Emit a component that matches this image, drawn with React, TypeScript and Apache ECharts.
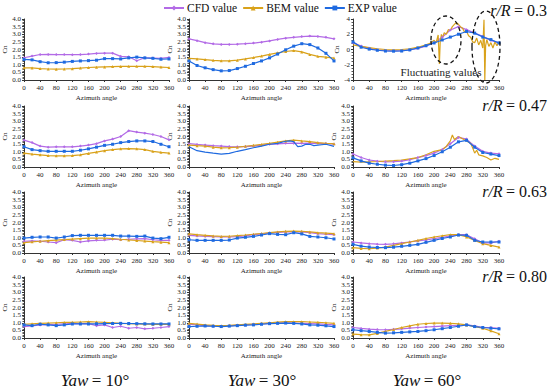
import React, { useEffect, useRef } from "react";
import * as echarts from "echarts";

// ---------- data ----------
const ANGLES = [0, 20, 40, 60, 80, 100, 120, 140, 160, 180, 200, 220, 240, 260, 280, 300, 320, 340, 360];

const SERIES_NAMES = ["CFD value", "BEM value", "EXP value"];
const YAW_LABELS = ["10", "30", "60"];
const RADIUS_LABELS = ["0.3", "0.47", "0.63", "0.80"];

// r/R = 0.3
const CFD_03_Y10 = [1.46, 1.57, 1.67, 1.68, 1.67, 1.67, 1.66, 1.67, 1.70, 1.74, 1.76, 1.76, 1.55, 1.52, 1.26, 1.46, 1.44, 1.42, 1.48];
const BEM_03_Y10 = [0.80, 0.79, 0.75, 0.72, 0.71, 0.72, 0.74, 0.78, 0.82, 0.84, 0.86, 0.88, 0.89, 0.90, 0.90, 0.90, 0.88, 0.85, 0.82];
const EXP_03_Y10 = [1.35, 1.32, 1.20, 1.13, 1.14, 1.17, 1.22, 1.25, 1.27, 1.30, 1.40, 1.40, 1.38, 1.45, 1.50, 1.45, 1.42, 1.36, 1.38];

const CFD_03_Y30 = [2.70, 2.58, 2.45, 2.37, 2.33, 2.33, 2.35, 2.38, 2.42, 2.48, 2.56, 2.66, 2.74, 2.80, 2.85, 2.88, 2.86, 2.80, 2.70];
const BEM_03_Y30 = [1.42, 1.38, 1.34, 1.29, 1.26, 1.26, 1.30, 1.38, 1.47, 1.57, 1.68, 1.78, 1.87, 1.93, 1.84, 1.68, 1.55, 1.50, 1.44];
const EXP_03_Y30 = [1.25, 0.95, 0.80, 0.68, 0.60, 0.62, 0.75, 0.90, 1.08, 1.25, 1.45, 1.70, 1.98, 2.22, 2.38, 2.32, 2.10, 1.75, 1.25];

const CFD_03_Y60 = [0.90, 0.45, 0.15, -0.05, -0.15, -0.18, -0.15, -0.05, 0.15, 0.45, 0.90, 1.60, 2.55, 3.00, 2.60, 2.15, 1.72, 1.20, 0.86];
const EXP_03_Y60 = [1.00, 0.30, 0.05, -0.10, -0.20, -0.22, -0.20, -0.05, 0.20, 0.50, 0.86, 1.25, 1.63, 2.00, 2.36, 2.15, 1.63, 1.30, 0.86];
const BEM_03_Y60_ANGLES = [0, 20, 40, 60, 80, 100, 120, 140, 160, 180, 190, 200, 205, 210, 213, 215, 218, 220, 225, 230, 235, 240, 245, 250, 255, 260, 265, 270, 275, 280, 285, 290, 295, 300, 305, 310, 315, 320, 323, 325, 327, 330, 335, 340, 345, 350, 355, 360];
const BEM_03_Y60 = [0.60, 0.40, 0.25, 0.10, 0.00, -0.05, 0.00, 0.10, 0.30, 0.60, 0.80, 1.20, 0.90, 1.90, -1.90, 1.00, 2.00, 1.50, 2.20, 2.00, 2.60, 2.50, 3.00, 3.30, 3.50, 3.30, 3.00, 2.80, 2.30, 2.40, 1.80, 1.60, 1.00, 0.90, 1.50, 0.60, 1.20, 0.20, 3.90, -4.00, 0.50, 1.30, 0.40, 0.90, 0.20, 1.00, 0.50, 1.00];

// r/R = 0.47
const CFD_047_Y10 = [1.76, 1.60, 1.37, 1.30, 1.32, 1.32, 1.32, 1.37, 1.44, 1.53, 1.71, 1.83, 2.00, 2.38, 2.29, 2.22, 2.13, 2.00, 1.78];
const BEM_047_Y10 = [0.91, 0.85, 0.80, 0.75, 0.73, 0.73, 0.75, 0.80, 0.89, 0.98, 1.07, 1.14, 1.19, 1.21, 1.19, 1.14, 1.03, 0.96, 0.91];
const EXP_047_Y10 = [1.33, 1.14, 1.07, 1.03, 1.03, 1.03, 1.03, 1.10, 1.19, 1.30, 1.42, 1.49, 1.60, 1.67, 1.71, 1.71, 1.67, 1.49, 1.33];

const CFD_047_Y30 = [1.53, 1.48, 1.44, 1.40, 1.37, 1.34, 1.32, 1.34, 1.37, 1.43, 1.49, 1.52, 1.55, 1.56, 1.55, 1.56, 1.55, 1.54, 1.49];
const BEM_047_Y30 = [1.44, 1.40, 1.37, 1.30, 1.26, 1.27, 1.30, 1.36, 1.42, 1.48, 1.55, 1.63, 1.71, 1.76, 1.71, 1.67, 1.60, 1.55, 1.53];
const EXP_047_Y30_ANGLES = [0, 20, 40, 60, 80, 100, 120, 140, 160, 180, 200, 220, 240, 250, 260, 270, 280, 290, 300, 310, 320, 340, 360];
const EXP_047_Y30 = [1.33, 1.07, 0.98, 0.91, 0.85, 0.89, 1.03, 1.14, 1.26, 1.37, 1.49, 1.55, 1.69, 1.71, 1.67, 1.33, 1.37, 1.49, 1.49, 1.40, 1.44, 1.49, 1.35];

const CFD_047_Y60 = [0.85, 0.62, 0.46, 0.38, 0.34, 0.35, 0.39, 0.48, 0.62, 0.75, 0.91, 1.15, 1.53, 1.94, 1.83, 1.37, 1.03, 0.91, 0.87];
const EXP_047_Y60 = [0.60, 0.40, 0.25, 0.18, 0.12, 0.10, 0.15, 0.25, 0.40, 0.55, 0.75, 1.00, 1.30, 1.65, 1.75, 1.30, 0.95, 0.85, 0.75];
const BEM_047_Y60_ANGLES = [0, 20, 40, 60, 80, 100, 120, 140, 160, 180, 200, 220, 230, 240, 245, 250, 260, 270, 280, 290, 295, 300, 305, 310, 320, 330, 340, 350, 360];
const BEM_047_Y60 = [0.35, 0.32, 0.34, 0.36, 0.39, 0.42, 0.46, 0.53, 0.62, 0.80, 1.03, 1.14, 1.35, 1.71, 2.10, 1.80, 2.00, 1.85, 1.71, 1.55, 1.26, 0.91, 1.10, 0.80, 0.73, 0.62, 0.46, 0.57, 0.50];

// r/R = 0.63
const CFD_063_Y10 = [0.77, 0.79, 0.77, 0.72, 0.68, 0.87, 0.83, 0.72, 0.79, 0.83, 0.85, 0.90, 0.87, 0.90, 0.92, 0.94, 0.87, 0.83, 0.83];
const BEM_063_Y10 = [0.68, 0.73, 0.77, 0.81, 0.85, 0.88, 0.91, 0.94, 0.97, 0.98, 0.98, 0.95, 0.90, 0.86, 0.82, 0.78, 0.74, 0.71, 0.68];
const EXP_063_Y10 = [0.98, 1.03, 1.05, 1.05, 0.98, 1.05, 1.14, 1.16, 1.16, 1.16, 1.16, 1.16, 1.11, 1.11, 1.09, 1.11, 0.98, 0.94, 1.03];

const CFD_063_Y30 = [1.16, 1.12, 1.09, 1.07, 1.05, 1.05, 1.07, 1.12, 1.20, 1.25, 1.31, 1.35, 1.38, 1.38, 1.38, 1.33, 1.27, 1.23, 1.20];
const BEM_063_Y30 = [1.25, 1.20, 1.16, 1.12, 1.09, 1.10, 1.14, 1.18, 1.23, 1.28, 1.33, 1.38, 1.42, 1.44, 1.42, 1.38, 1.33, 1.30, 1.27];
const EXP_063_Y30 = [0.87, 0.83, 0.83, 0.83, 0.83, 0.85, 0.98, 1.03, 1.09, 1.18, 1.27, 1.22, 1.20, 1.33, 1.25, 1.09, 1.05, 1.00, 0.92];

const CFD_063_Y60 = [0.72, 0.66, 0.61, 0.58, 0.57, 0.60, 0.66, 0.72, 0.79, 0.86, 0.94, 1.03, 1.11, 1.20, 1.20, 0.94, 0.66, 0.66, 0.77];
const BEM_063_Y60 = [0.35, 0.30, 0.28, 0.32, 0.39, 0.50, 0.61, 0.72, 0.83, 0.95, 1.05, 1.13, 1.20, 1.20, 1.05, 0.83, 0.61, 0.50, 0.39];
const EXP_063_Y60 = [0.57, 0.45, 0.39, 0.36, 0.35, 0.38, 0.44, 0.50, 0.57, 0.70, 0.83, 0.95, 1.05, 1.18, 1.16, 0.83, 0.72, 0.72, 0.72];

// r/R = 0.80
const CFD_080_Y10 = [0.75, 0.80, 0.86, 0.88, 0.90, 0.92, 0.94, 0.94, 0.94, 0.81, 0.86, 0.69, 0.77, 0.64, 0.69, 0.60, 0.64, 0.69, 0.75];
const BEM_080_Y10 = [0.90, 0.93, 0.96, 0.98, 1.00, 1.02, 1.03, 1.05, 1.07, 1.05, 1.03, 1.00, 0.96, 0.94, 0.92, 0.91, 0.90, 0.90, 0.90];
const EXP_080_Y10 = [0.86, 0.81, 0.90, 0.86, 0.81, 0.86, 0.92, 0.92, 0.92, 0.93, 0.94, 0.95, 0.96, 0.95, 0.94, 0.93, 0.92, 0.92, 0.92];

const CFD_080_Y30 = [0.90, 0.86, 0.81, 0.79, 0.77, 0.80, 0.84, 0.86, 0.90, 0.93, 0.96, 0.98, 1.00, 0.98, 0.96, 0.94, 0.92, 0.89, 0.86];
const BEM_080_Y30 = [0.96, 0.91, 0.86, 0.83, 0.81, 0.83, 0.86, 0.89, 0.92, 0.96, 1.00, 1.04, 1.07, 1.07, 1.07, 1.05, 1.03, 1.00, 0.96];
const EXP_080_Y30 = [0.75, 0.77, 0.79, 0.77, 0.75, 0.78, 0.81, 0.84, 0.86, 0.90, 0.94, 0.96, 0.98, 0.96, 0.92, 0.86, 0.84, 0.80, 0.75];

const CFD_080_Y60 = [0.69, 0.63, 0.58, 0.55, 0.54, 0.57, 0.60, 0.65, 0.69, 0.72, 0.75, 0.78, 0.81, 0.82, 0.86, 0.79, 0.69, 0.69, 0.64];
const BEM_080_Y60 = [0.26, 0.22, 0.21, 0.30, 0.43, 0.56, 0.69, 0.80, 0.90, 0.95, 0.98, 0.98, 0.96, 0.93, 0.86, 0.75, 0.64, 0.47, 0.28];
const EXP_080_Y60 = [0.54, 0.48, 0.43, 0.37, 0.32, 0.34, 0.37, 0.40, 0.43, 0.48, 0.54, 0.61, 0.69, 0.77, 0.86, 0.75, 0.69, 0.64, 0.60];

// panel table: [row][col] -> [cfd, bem, exp] (angles, values)
type Line = { a: number[]; v: number[] };
const L = (v: number[], a: number[] = ANGLES): Line => ({ a, v });

const PANELS: Line[][][] = [
  [
    [L(CFD_03_Y10), L(BEM_03_Y10), L(EXP_03_Y10)],
    [L(CFD_03_Y30), L(BEM_03_Y30), L(EXP_03_Y30)],
    [L(CFD_03_Y60), L(BEM_03_Y60, BEM_03_Y60_ANGLES), L(EXP_03_Y60)],
  ],
  [
    [L(CFD_047_Y10), L(BEM_047_Y10), L(EXP_047_Y10)],
    [L(CFD_047_Y30), L(BEM_047_Y30), L(EXP_047_Y30, EXP_047_Y30_ANGLES)],
    [L(CFD_047_Y60), L(BEM_047_Y60, BEM_047_Y60_ANGLES), L(EXP_047_Y60)],
  ],
  [
    [L(CFD_063_Y10), L(BEM_063_Y10), L(EXP_063_Y10)],
    [L(CFD_063_Y30), L(BEM_063_Y30), L(EXP_063_Y30)],
    [L(CFD_063_Y60), L(BEM_063_Y60), L(EXP_063_Y60)],
  ],
  [
    [L(CFD_080_Y10), L(BEM_080_Y10), L(EXP_080_Y10)],
    [L(CFD_080_Y30), L(BEM_080_Y30), L(EXP_080_Y30)],
    [L(CFD_080_Y60), L(BEM_080_Y60), L(EXP_080_Y60)],
  ],
];

// ---------- styling / layout ----------
const COLORS = ["#b36be6", "#d9a21b", "#1f6ae0"];
const SYMBOLS = ["diamond", "triangle", "rect"];
const COL_LEFT = [22, 189, 353];
const COL_WIDTH = [147, 145, 146];
const ROW_TOP = [19, 106, 192, 277];
const ROW_HEIGHT = 61;
const FONT = "'Liberation Serif', 'Times New Roman', 'DejaVu Serif', serif";

export default function App() {
  const ref = useRef<HTMLDivElement>(null);

  useEffect(() => {
    if (!ref.current) return;
    const chart = echarts.init(ref.current, undefined, { renderer: "svg" });

    const grids: any[] = [];
    const xAxes: any[] = [];
    const yAxes: any[] = [];
    const series: any[] = [];

    PANELS.forEach((row, r) => {
      row.forEach((panel, c) => {
        const idx = grids.length;
        grids.push({
          left: COL_LEFT[c],
          top: ROW_TOP[r],
          width: COL_WIDTH[c],
          height: ROW_HEIGHT,
          containLabel: false,
        });
        const wide = r === 0 && c === 2;
        xAxes.push({
          gridIndex: idx,
          type: "value",
          min: 0,
          max: 360,
          interval: 40,
          name: "Azimuth angle",
          nameLocation: "middle",
          nameGap: 14,
          nameTextStyle: { fontFamily: FONT, fontSize: 7, color: "#222" },
          axisLine: { onZero: false, lineStyle: { color: "#333", width: 1 } },
          axisTick: { show: true, length: 2, lineStyle: { color: "#333" } },
          axisLabel: { fontFamily: FONT, fontSize: 7, color: "#222", margin: 4 },
          splitLine: { show: false },
        });
        yAxes.push({
          gridIndex: idx,
          type: "value",
          min: wide ? -4 : 0,
          max: 4,
          interval: wide ? 2 : 0.5,
          name: "Cn",
          nameLocation: "middle",
          nameGap: wide ? 13 : 16,
          nameRotate: 90,
          nameTextStyle: { fontFamily: FONT, fontSize: 7, color: "#222" },
          axisLine: { show: true, lineStyle: { color: "#333", width: 1 } },
          axisTick: { show: true, length: 2, lineStyle: { color: "#333" } },
          minorTick: { show: true, splitNumber: 5, length: 1.5, lineStyle: { color: "#555" } },
          axisLabel: {
            fontFamily: FONT,
            fontSize: 7,
            color: "#222",
            margin: 3,
            formatter: (v: number) => (wide ? String(v) : v.toFixed(1)),
          },
          splitLine: { show: false },
        });
        panel.forEach((line, s) => {
          series.push({
            name: SERIES_NAMES[s],
            type: "line",
            xAxisIndex: idx,
            yAxisIndex: idx,
            data: line.a.map((a, i) => [a, line.v[i]]),
            symbol: SYMBOLS[s],
            symbolSize: 3,
            showSymbol: line.a.length === ANGLES.length,
            lineStyle: { color: COLORS[s], width: 1.2 },
            itemStyle: { color: COLORS[s] },
            z: s === 2 ? 4 : 3,
          });
        });
      });
    });

    const rightLabels = RADIUS_LABELS.map((v, i) => ({
      type: "text",
      right: 3,
      top: [2, 97, 183, 268][i],
      style: {
        text: `{i|r/R} {n|= ${v}}`,
        rich: {
          i: { fontFamily: FONT, fontStyle: "italic", fontSize: 16, fill: "#111" },
          n: { fontFamily: FONT, fontSize: 16, fill: "#111" },
        },
      },
    }));

    const yawLabels = YAW_LABELS.map((v, i) => ({
      type: "text",
      x: [95, 262, 427][i],
      y: 380,
      style: {
        text: `{i|Yaw} {n|= ${v}°}`,
        align: "center",
        verticalAlign: "middle",
        rich: {
          i: { fontFamily: FONT, fontStyle: "italic", fontSize: 17, fill: "#111" },
          n: { fontFamily: FONT, fontSize: 17, fill: "#111" },
        },
      },
    }));

    chart.setOption({
      animation: false,
      backgroundColor: "#fff",
      legend: {
        data: SERIES_NAMES,
        top: 2,
        left: 163,
        padding: 0,
        itemWidth: 20,
        itemHeight: 6,
        itemGap: 5,
        textStyle: { fontFamily: FONT, fontSize: 11.5, color: "#111", padding: [0, 0, 0, -2] },
      },
      grid: grids,
      xAxis: xAxes,
      yAxis: yAxes,
      series,
      graphic: [
        ...rightLabels,
        ...yawLabels,
        {
          type: "ellipse",
          shape: { cx: 446, cy: 40, rx: 15, ry: 24 },
          style: { fill: "none", stroke: "#111", lineWidth: 1.3, lineDash: [4, 3] },
          z: 10,
        },
        {
          type: "ellipse",
          shape: { cx: 486, cy: 47, rx: 14, ry: 36 },
          style: { fill: "none", stroke: "#111", lineWidth: 1.3, lineDash: [4, 3] },
          z: 10,
        },
        {
          type: "text",
          x: 441,
          y: 72,
          style: {
            text: "Fluctuating values",
            align: "center",
            verticalAlign: "middle",
            fontFamily: FONT,
            fontSize: 11,
            fill: "#222",
          },
          z: 10,
        },
      ],
    });

    return () => chart.dispose();
  }, []);

  return (
    <div
      ref={ref}
      style={{ position: "absolute", left: 0, top: 0, width: 550, height: 391, background: "#fff" }}
    />
  );
}
